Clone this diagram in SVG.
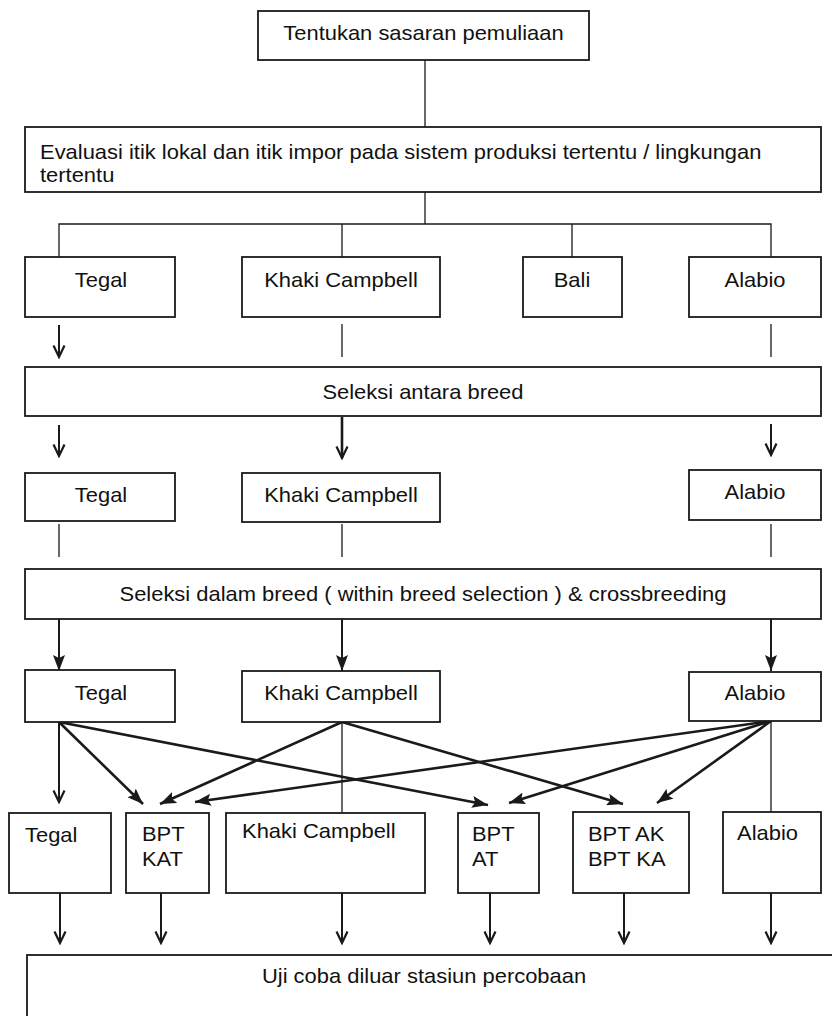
<svg xmlns="http://www.w3.org/2000/svg" width="832" height="1016" viewBox="0 0 832 1016">
<style>
.box{fill:#fff;stroke:#1a1a1a;stroke-width:1.8}
.t{font-family:"Liberation Sans",Arial,sans-serif;font-size:20.5px;fill:#111}
.c{text-anchor:middle}
.ln{stroke:#1a1a1a;stroke-width:1.3;fill:none}
.ar{stroke:#1a1a1a;stroke-width:2;fill:none}
.arb{stroke:#1a1a1a;stroke-width:2.6;fill:none}
</style>
<defs>
<marker id="vopen" viewBox="0 0 14 14" refX="12.5" refY="7" markerWidth="14" markerHeight="14" markerUnits="userSpaceOnUse" orient="auto"><path d="M1,1.5 L12.5,7 L1,12.5" fill="none" stroke="#1a1a1a" stroke-width="2.2"/></marker>
<marker id="fill" viewBox="0 0 16 12" refX="16" refY="6" markerWidth="16" markerHeight="12" markerUnits="userSpaceOnUse" orient="auto"><path d="M0,0 L16,6 L0,12 L3,6 z" fill="#1a1a1a"/></marker>
</defs>
<rect width="832" height="1016" fill="#fff"/>

<g id="connectors">
<path class="ln" d="M425,60 V127"/>
<path class="ln" d="M425,192 V224 M59,257 V224 H771 V257 M342,224 V257 M572,224 V257"/>
<path class="ar" d="M59,325 V357" marker-end="url(#vopen)"/>
<path class="ln" d="M342,324 V357 M771,324 V357"/>
<path class="ar" d="M59,425 V456" marker-end="url(#vopen)"/>
<path class="arb" d="M342,417 V458" marker-end="url(#vopen)"/>
<path class="ar" d="M771,424 V455" marker-end="url(#vopen)"/>
<path class="ln" d="M59,524 V557 M342,524 V557 M771,524 V557"/>
<path class="ar" d="M59,619 V671" marker-end="url(#fill)"/>
<path class="ar" d="M342,619 V671" marker-end="url(#fill)"/>
<path class="ar" d="M771,619 V671" marker-end="url(#fill)"/>
<path class="ar" d="M59,722 V802" marker-end="url(#vopen)"/>
<path class="arb" d="M59,722 L143,804" marker-end="url(#fill)"/>
<path class="arb" d="M59,722 L488,805" marker-end="url(#fill)"/>
<path class="arb" d="M342,722 L160,804" marker-end="url(#fill)"/>
<path class="arb" d="M342,722 L623,804" marker-end="url(#fill)"/>
<path class="ln" d="M342,722 V812"/>
<path class="arb" d="M771,721 L195,802" marker-end="url(#fill)"/>
<path class="arb" d="M771,721 L509,803" marker-end="url(#fill)"/>
<path class="arb" d="M771,721 L657,803" marker-end="url(#fill)"/>
<path class="ln" d="M771,721 V812"/>
<path class="ar" d="M60,893 V943" marker-end="url(#vopen)"/>
<path class="ar" d="M161,893 V943" marker-end="url(#vopen)"/>
<path class="ar" d="M342,893 V943" marker-end="url(#vopen)"/>
<path class="ar" d="M490,893 V943" marker-end="url(#vopen)"/>
<path class="ar" d="M624,893 V943" marker-end="url(#vopen)"/>
<path class="ar" d="M771,893 V943" marker-end="url(#vopen)"/>
</g>

<g id="n-tentukan"><rect class="box" x="258" y="11" width="331" height="49"/><text class="t c" transform="scale(1.07,1)" x="395.8" y="40">Tentukan sasaran pemuliaan</text></g>
<g id="n-evaluasi"><rect class="box" x="25" y="127" width="796" height="65"/><text class="t" transform="scale(1.07,1)" x="37.4" y="159.5">Evaluasi itik lokal dan itik impor pada sistem produksi tertentu / lingkungan</text><text class="t" transform="scale(1.07,1)" x="37.4" y="182.5">tertentu</text></g>

<g id="n-tegal1"><rect class="box" x="25" y="257" width="150" height="60"/><text class="t c" transform="scale(1.07,1)" x="94.4" y="287">Tegal</text></g>
<g id="n-khaki1"><rect class="box" x="242" y="257" width="198" height="60"/><text class="t c" transform="scale(1.07,1)" x="318.7" y="287">Khaki Campbell</text></g>
<g id="n-bali1"><rect class="box" x="523" y="257" width="99" height="60"/><text class="t c" transform="scale(1.07,1)" x="534.6" y="287">Bali</text></g>
<g id="n-alabio1"><rect class="box" x="689" y="257" width="132" height="60"/><text class="t c" transform="scale(1.07,1)" x="705.6" y="287">Alabio</text></g>

<g id="n-seleksi-antara"><rect class="box" x="25" y="367" width="796" height="49"/><text class="t c" transform="scale(1.07,1)" x="395.3" y="399">Seleksi antara breed</text></g>

<g id="n-tegal2"><rect class="box" x="25" y="473" width="150" height="48"/><text class="t c" transform="scale(1.07,1)" x="94.4" y="502">Tegal</text></g>
<g id="n-khaki2"><rect class="box" x="242" y="473" width="198" height="49"/><text class="t c" transform="scale(1.07,1)" x="318.7" y="502">Khaki Campbell</text></g>
<g id="n-alabio2"><rect class="box" x="689" y="470" width="132" height="50"/><text class="t c" transform="scale(1.07,1)" x="705.6" y="499">Alabio</text></g>

<g id="n-seleksi-dalam"><rect class="box" x="25" y="569" width="796" height="50"/><text class="t c" transform="scale(1.07,1)" x="395.3" y="601">Seleksi dalam breed ( within breed selection ) &amp; crossbreeding</text></g>

<g id="n-tegal3"><rect class="box" x="25" y="670" width="150" height="52"/><text class="t c" transform="scale(1.07,1)" x="94.4" y="700">Tegal</text></g>
<g id="n-khaki3"><rect class="box" x="242" y="671" width="198" height="51"/><text class="t c" transform="scale(1.07,1)" x="318.7" y="700">Khaki Campbell</text></g>
<g id="n-alabio3"><rect class="box" x="689" y="672" width="132" height="49"/><text class="t c" transform="scale(1.07,1)" x="705.6" y="700">Alabio</text></g>

<g id="n-tegal4"><rect class="box" x="9" y="813" width="102" height="80"/><text class="t" transform="scale(1.07,1)" x="23.4" y="842">Tegal</text></g>
<g id="n-bptkat"><rect class="box" x="126" y="813" width="83" height="80"/><text class="t" transform="scale(1.07,1)" x="132.7" y="841">BPT</text><text class="t" transform="scale(1.07,1)" x="132.7" y="866">KAT</text></g>
<g id="n-khaki4"><rect class="box" x="226" y="813" width="199" height="80"/><text class="t" transform="scale(1.07,1)" x="226.2" y="838">Khaki Campbell</text></g>
<g id="n-bptat"><rect class="box" x="458" y="813" width="81" height="80"/><text class="t" transform="scale(1.07,1)" x="441.1" y="841">BPT</text><text class="t" transform="scale(1.07,1)" x="441.1" y="866">AT</text></g>
<g id="n-bptak"><rect class="box" x="573" y="812" width="116" height="81"/><text class="t" transform="scale(1.07,1)" x="549.5" y="841">BPT AK</text><text class="t" transform="scale(1.07,1)" x="549.5" y="866">BPT KA</text></g>
<g id="n-alabio4"><rect class="box" x="723" y="812" width="98" height="81"/><text class="t" transform="scale(1.07,1)" x="688.8" y="840">Alabio</text></g>

<g id="n-uji"><rect class="box" x="27" y="955" width="820" height="80"/><text class="t c" transform="scale(1.07,1)" x="396.3" y="983">Uji coba diluar stasiun percobaan</text></g>
</svg>
